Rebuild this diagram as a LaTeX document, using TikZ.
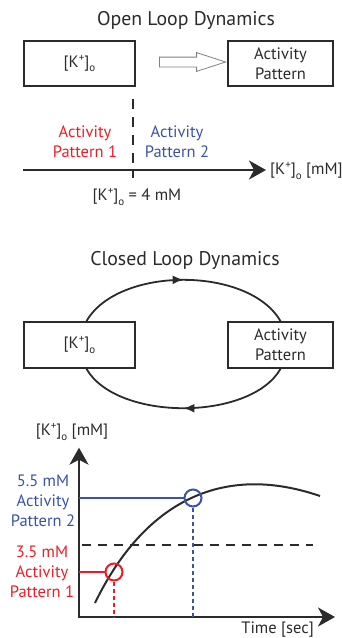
\documentclass[tikz,border=0pt]{standalone}
\usepackage{fontspec}
\setmainfont{PT Sans}
\usetikzlibrary{shapes,arrows,arrows.meta,positioning,decorations.markings,calc}

\definecolor{patred}{HTML}{ED1C24}
\definecolor{patblue}{HTML}{3A53A4}
\definecolor{inkgray}{HTML}{2B2B2B}
\newcommand{\Kion}{[K\raisebox{0.75ex}{\fontsize{11}{11}\selectfont +}]\raisebox{-0.55ex}{\fontsize{11}{11}\selectfont o}}

\tikzset{
  plain/.style={text=inkgray, align=center, inner sep=2pt, font=\fontsize{16.5}{20}\selectfont},
  title/.style={text=inkgray, font=\fontsize{19.8}{24}\selectfont},
  redtext/.style={plain, text=patred},
  bluetext/.style={plain, text=patblue},
  statebox/.style={plain, draw=inkgray, line width=1.8pt, fill=white, minimum height=45, inner sep=0pt},
  hollowarrow/.style={single arrow, draw=gray, line width=0.8pt, inner xsep=0pt, inner ysep=4.5pt,
    minimum height=66, single arrow head extend=4.5pt, single arrow tip angle=36, single arrow head indent=0pt},
  axis/.style={draw=inkgray, line width=2.2pt, -{Stealth[length=17pt,width=19pt,inset=5pt]}},
  threshold/.style={draw=inkgray, line width=2.2pt, dash pattern=on 10pt off 8pt},
  loopline/.style={draw=inkgray, line width=1.8pt, postaction={decorate},
    decoration={markings, mark=at position 0.5 with {\arrow{Latex[length=11pt,width=9pt]}}}},
  level/.style={line width=2pt},
  drop/.style={line width=2.2pt, dash pattern=on 4pt off 3pt},
  hitmark/.style={circle, line width=2pt, minimum size=17, inner sep=0pt},
  response/.style={draw=inkgray, line width=2pt}
}

\begin{document}
\begin{tikzpicture}[x=1pt,y=1pt]
  \useasboundingbox (0,0) rectangle (342,-638);

  % open loop
  \node[title] (opentitle) at (186,-20) {Open Loop Dynamics};
  \node[statebox, minimum width=111] (kbox) at (79.5,-63.5) {\Kion};
  \node[statebox, minimum width=105] (actbox) at (280.5,-63.5) {Activity\\Pattern};
  \node[hollowarrow] (push) at (185,-62) {};

  % concentration axis
  \coordinate (kstart) at (23,-170);
  \node[plain, anchor=west, inner sep=4pt] (kunit) at (266,-171) {\Kion{} [mM]};
  \draw[axis] (kstart) -- (kunit.west |- kstart);
  \coordinate (thrtop) at (133,-99);
  \coordinate (thrbot) at (133,-178);
  \draw[threshold] (thrtop) -- (thrbot);
  \node[redtext] (patone) at (85,-142) {Activity\\Pattern 1};
  \node[bluetext] (pattwo) at (177,-142) {Activity\\Pattern 2};
  \node[plain] (thrlabel) at (137,-197) {\Kion{} = 4 mM};

  % closed loop
  \node[title] (closedtitle) at (185,-260) {Closed Loop Dynamics};
  \node[statebox, minimum width=111, minimum height=46] (kc) at (79.5,-345) {\Kion};
  \node[statebox, minimum width=105, minimum height=46] (ac) at (280.5,-345) {Activity\\Pattern};
  \draw[loopline] ([xshift=7]kc.north) to[out=60,in=120,looseness=0.84] (ac.north);
  \draw[loopline] (ac.south) to[out=-120,in=-60,looseness=0.8] ([xshift=7]kc.south);

  % time course
  \coordinate (origin) at (79,-617);
  \coordinate (xtip) at (335,-617);
  \node[plain] (ylab) at (72,-432) {\Kion{} [mM]};
  \node[plain, anchor=east] (tlab) at (316,-630) {Time [sec]};
  \draw[axis, {Stealth[length=17pt,width=19pt,inset=5pt]}-{Stealth[length=17pt,width=19pt,inset=5pt]}]
    ([yshift=-5]origin |- ylab.south) -- (origin) -- (xtip);

  \coordinate (dashA) at (82,-545);
  \coordinate (dashB) at (313,-545);
  \draw[threshold, dash pattern=on 9pt off 7pt] (dashA) -- (dashB);

  \draw[response] (95,-603) .. controls (140,-510) and (215,-460) .. (320,-496);

  \node[hitmark, draw=patred] (lowhit) at (114,-572) {};
  \node[hitmark, draw=patblue] (highhit) at (193,-498) {};
  \draw[patred, level] (origin |- lowhit) -- (lowhit.west);
  \draw[patred, drop] (lowhit.south) -- (lowhit |- origin);
  \draw[patblue, level] (origin |- highhit) -- (highhit.west);
  \draw[patblue, drop] (highhit.south) -- (highhit |- origin);

  \node[bluetext] (highlab) at (43,-501) {5.5 mM\\Activity\\Pattern 2};
  \node[redtext] (lowlab) at (42,-572) {3.5 mM\\Activity\\Pattern 1};
\end{tikzpicture}
\end{document}
